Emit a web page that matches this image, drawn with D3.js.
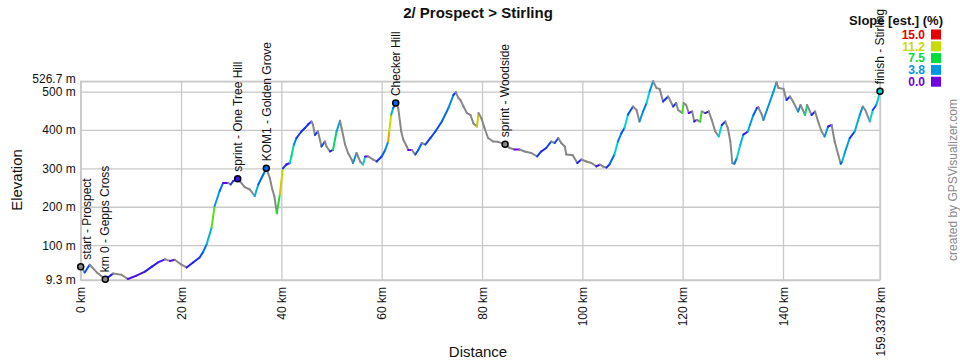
<!DOCTYPE html>
<html><head><meta charset="utf-8">
<script src="https://cdn.jsdelivr.net/npm/d3@7"></script>
<style>
body{margin:0;background:#fff;}
svg{display:block;font-family:Arial,"Liberation Sans",sans-serif;}
</style></head>
<body><svg id="c" width="960" height="360"></svg>
<script>
const title = "2/ Prospect > Stirling";
const distKm = [0,0.8,1.8,3.3,4.9,6.45,8.1,9.4,11.0,12.8,14.2,15.4,16.8,17.8,18.75,20.0,21.1,22.4,23.7,24.4,25.1,26.1,26.7,27.7,28.4,29.4,29.9,30.4,31.3,32.7,33.7,34.7,35.4,36.4,37.0,37.7,38.2,38.6,39.1,39.7,40.0,40.3,41.0,41.7,42.0,42.5,43.0,44.0,44.7,45.3,46.0,46.3,46.7,47.3,48.0,48.7,49.0,49.7,50.3,51.0,51.7,52.0,52.7,53.3,54.0,54.3,55.0,55.7,56.3,56.7,57.3,58.3,59.0,60.0,60.7,61.3,61.5,61.9,62.3,62.8,63.3,63.9,64.3,65.0,65.3,66.0,66.7,67.3,68.0,68.7,69.7,70.7,72.0,73.3,74.3,74.8,75.3,75.7,76.3,77.0,77.7,78.3,79.0,79.3,79.9,80.5,81.2,82.2,83.2,84.6,85.5,86.5,87.5,88.5,89.8,91.0,91.8,92.8,93.8,94.5,95.2,95.8,96.5,96.8,98.1,99.0,99.8,100.8,101.8,102.8,103.5,104.1,104.8,105.4,106.4,107.1,107.8,108.4,109.1,110.1,110.8,111.4,112.1,112.8,113.4,114.1,114.8,115.4,116.1,117.1,118.1,118.7,119.1,119.5,119.9,120.2,120.7,121.2,121.9,122.3,122.8,123.5,123.8,124.5,125.2,125.8,126.5,127.2,127.8,128.5,129.0,129.5,129.9,130.3,130.8,131.5,132.1,133.0,133.4,134.1,134.8,135.1,135.8,136.1,136.8,137.4,138.1,138.7,139.1,140.1,140.7,141.4,142.0,143.0,143.5,144.4,144.8,145.7,146.4,147.0,147.7,148.3,149.0,149.7,150.3,151.0,151.5,151.8,152.3,153.3,154.3,155.3,155.9,156.4,157.3,157.9,158.6,158.9,159.3378];
const elevM = [44,29,49,28,11,26,23,12,20,31,44,55,63,59,62,50,42,55,68,82,102,146,202,241,262,262,258,267,273,251,245,228,258,284,300,275,245,228,183,232,267,300,310,314,331,362,379,396,405,414,422,414,387,396,357,370,357,344,348,396,424,405,362,340,323,314,340,318,310,331,331,323,318,331,348,370,395,440,457,470,457,396,375,357,348,348,336,348,366,362,379,396,422,457,491,498,483,478,461,444,439,417,409,444,430,405,379,370,369,363,353,349,349,344,340,331,344,353,370,366,379,366,357,336,334,314,323,318,314,305,310,305,302,310,336,370,392,405,440,461,452,422,448,470,500,526.7,509,507,474,487,461,470,452,448,444,470,465,444,448,422,426,422,448,444,448,426,396,383,413,422,405,370,314,312,327,362,388,396,413,439,457,459,439,426,452,474,500,524,509,507,478,487,474,448,465,439,465,439,448,422,396,383,409,413,370,336,312,318,340,379,396,439,461,452,422,452,465,478,501];
const yTicks = [9.3,100,200,300,400,500,526.7];
const xTicks = [0,20,40,60,80,100,120,140,159.3378];
const wpNames = ["start - Prospect","km 0 - Gepps Cross","sprint - One Tree Hill","KOM1 - Golden Grove","Checker Hill","sprint - Woodside","finish - Stirling"];
const wpKm = [0,4.9,31.3,37.0,62.8,84.6,159.3378];
const wpEle = [44,11,273,300,470,363,501];
const legendVals = [15.0,11.2,7.5,3.8,0.0];
const legendColors = ["#e60000","#c8dc00","#00dc3c","#0096e6","#7000e6"];
const scaleStops = [0,1,2.5,3.8,5,7.5,9.4,11.2,13.1,15];
const scaleColors = ["#7000e6","#1e1eff","#0064f0","#0096e6","#00d2dc","#00dc3c","#64dc1e","#c8dc00","#f08c00","#e60000"];

const svg = d3.select("#c");
const L = 80.7, R = 880, T = 81.3, B = 280;
const x = d3.scaleLinear().domain([0,159.3378]).range([L,R]);
const y = d3.scaleLinear().domain([9.3,526.7]).range([B,T]);
const col = d3.scaleLinear().domain(scaleStops).range(scaleColors).clamp(true);
const grid = "#c8c8c8";

// frame
svg.append("rect").attr("x",L).attr("y",T).attr("width",R-L).attr("height",B-T)
  .attr("fill","none").attr("stroke",grid).attr("stroke-width",1.3);

// y axis + grid
const ya = svg.append("g").attr("transform",`translate(${L},0)`)
  .call(d3.axisLeft(y).tickValues(yTicks).tickFormat(d=>d+" m").tickSize(-(R-L)).tickPadding(5));
ya.select(".domain").remove();
ya.selectAll("line").attr("stroke",grid).attr("stroke-width",1.3);
ya.selectAll("text").attr("font-size",12).attr("fill","#111").attr("font-family","Arial, 'Liberation Sans', sans-serif")
  .attr("dy",d=>d===526.7?"0.1em":"0.32em");

// x axis + grid
const xa = svg.append("g").attr("transform",`translate(0,${B})`)
  .call(d3.axisBottom(x).tickValues(xTicks).tickFormat(d=>d+" km").tickSize(-(B-T)).tickPadding(7));
xa.select(".domain").remove();
xa.selectAll("line").attr("stroke",grid).attr("stroke-width",1.3);
xa.selectAll("text").attr("font-size",12).attr("fill","#111").attr("font-family","Arial, 'Liberation Sans', sans-serif")
  .attr("transform","rotate(-90)").attr("text-anchor","end").attr("x",-7).attr("y",0).attr("dy","0.35em");

// profile segments colored by slope
const segs = [];
for (let i=0;i<distKm.length-1;i++){
  const dk = distKm[i+1]-distKm[i];
  const slope = (elevM[i+1]-elevM[i])/(dk*1000)*100;
  segs.push({x1:distKm[i],y1:elevM[i],x2:distKm[i+1],y2:elevM[i+1],c: slope<0 ? "#888888" : col(slope)});
}
svg.append("g").selectAll("line").data(segs).join("line")
  .attr("x1",d=>x(d.x1)).attr("y1",d=>y(d.y1)).attr("x2",d=>x(d.x2)).attr("y2",d=>y(d.y2))
  .attr("stroke",d=>d.c).attr("stroke-width",2).attr("stroke-linecap","round");

// waypoints
const wp = wpNames.map((n,i)=>({n,k:wpKm[i],e:wpEle[i]}));
function segColorAt(k){
  for (const s of segs){ if (k>=s.x1 && k<=s.x2) return s.c; }
  return "#888";
}
const wg = svg.append("g");
wg.selectAll("circle").data(wp).join("circle")
  .attr("cx",d=>x(d.k)).attr("cy",d=>y(d.e)).attr("r",3)
  .attr("fill",d=>segColorAt(d.k)).attr("stroke","#000").attr("stroke-width",1.5);
wg.selectAll("text").data(wp).join("text")
  .attr("transform",d=>`translate(${Math.max(x(d.k),L+6)},${y(d.e)}) rotate(-90)`)
  .attr("x",7).attr("dy","0.35em").attr("font-size",12).attr("fill","#111")
  .text(d=>d.n);

// title
svg.append("text").attr("x",478).attr("y",18).attr("text-anchor","middle")
  .attr("font-size",15).attr("font-weight","bold").attr("fill","#111").text(title);

// axis titles
svg.append("text").attr("transform","translate(22,180) rotate(-90)").attr("text-anchor","middle")
  .attr("font-size",15).attr("fill","#111").text("Elevation");
svg.append("text").attr("x",478).attr("y",357).attr("text-anchor","middle")
  .attr("font-size",15).attr("fill","#111").text("Distance");

// credit
svg.append("text").attr("transform","translate(957,180) rotate(-90)").attr("text-anchor","middle")
  .attr("font-size",12).attr("fill","#888").text("created by GPSVisualizer.com");

// legend
const lg = svg.append("g");
lg.append("text").attr("x",943).attr("y",25).attr("text-anchor","end")
  .attr("font-size",13).attr("font-weight","bold").attr("fill","#111").text("Slope [est.] (%)");
legendVals.forEach((v,i)=>{
  const cy = 34.5 + i*11.8;
  lg.append("text").attr("x",925).attr("y",cy+4.3).attr("text-anchor","end")
    .attr("font-size",12).attr("font-weight","bold").attr("fill",legendColors[i]).text(v.toFixed(1));
  lg.append("rect").attr("x",931).attr("y",cy-5).attr("width",10).attr("height",10).attr("fill",legendColors[i]);
});
</script></body></html>
